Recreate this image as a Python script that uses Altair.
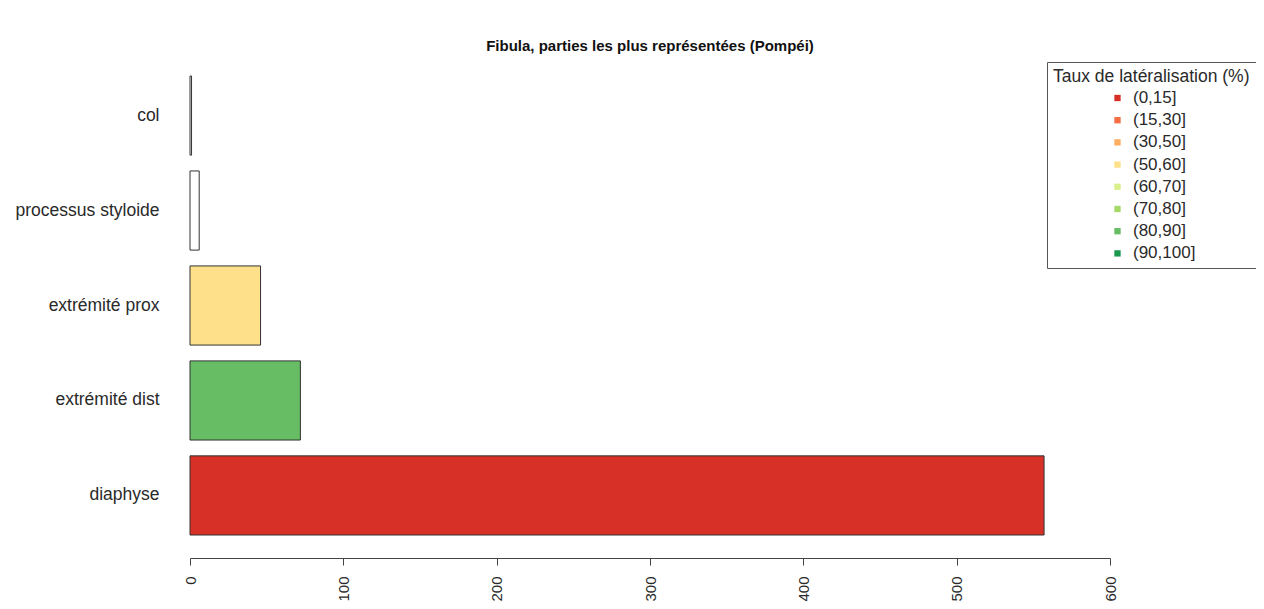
import altair as alt
import pandas as pd

parts = ["col", "processus styloide", "extrémité prox", "extrémité dist", "diaphyse"]
counts = [1, 6, 46, 72, 557]
classes = ["NA", "NA", "(50,60]", "(80,90]", "(0,15]"]

class_labels = ["(0,15]", "(15,30]", "(30,50]", "(50,60]", "(60,70]", "(70,80]", "(80,90]", "(90,100]"]
class_colors = ["#D73027", "#F46D43", "#FDAE61", "#FEE08B", "#D9EF8B", "#A6D96A", "#66BD63", "#1A9850"]

x_ticks = [0, 100, 200, 300, 400, 500, 600]

df = pd.DataFrame({"partie": parts, "n": counts, "classe": classes})

FONT = "Liberation Sans"

chart = alt.Chart(df).mark_bar(stroke="#333333", strokeWidth=1).encode(
    y=alt.Y(
        "partie:N",
        sort=parts,
        scale=alt.Scale(paddingInner=0.1667, paddingOuter=0),
        axis=alt.Axis(
            title=None, domain=False, ticks=False, labelPadding=31,
            labelFont=FONT, labelFontSize=17.5, labelColor="#2a2a2a",
        ),
    ),
    x=alt.X(
        "n:Q",
        scale=alt.Scale(domain=[0, 600], nice=False, zero=True),
        axis=alt.Axis(
            title=None, values=x_ticks, grid=False, offset=23,
            domainColor="#444444", tickColor="#444444", tickSize=7,
            labelAngle=270, labelPadding=11, labelFont=FONT, labelFontSize=15,
            labelColor="#2a2a2a", labelOverlap=False,
        ),
    ),
    color=alt.Color(
        "classe:N",
        scale=alt.Scale(domain=class_labels + ["NA"], range=class_colors + ["#FFFFFF"]),
        legend=alt.Legend(
            title="Taux de latéralisation (%)",
            values=class_labels,
            orient="none", legendX=857, legendY=-14,
            strokeColor="#555555", padding=6,
            titleFont=FONT, titleFontSize=17.5, titleFontWeight="normal", titleColor="#2a2a2a",
            titleLimit=400, labelLimit=300,
            labelFont=FONT, labelFontSize=17, labelColor="#2a2a2a",
            symbolType="square", symbolSize=40, symbolStrokeWidth=0,
            symbolOffset=56, labelOffset=7, rowPadding=4.2, titlePadding=4,
        ),
    ),
).properties(
    width=920,
    height=459,
    title=alt.TitleParams(
        "Fibula, parties les plus représentées (Pompéi)",
        font=FONT, fontSize=15, fontWeight="bold", color="#111111",
        anchor="middle", offset=8,
    ),
    autosize=alt.AutoSizeParams(type="none"),
    padding={"left": 182, "top": 68, "right": 146, "bottom": 66},
).configure_view(stroke=None)

chart.save("out.html", embed_options={"renderer": "svg", "actions": False})
